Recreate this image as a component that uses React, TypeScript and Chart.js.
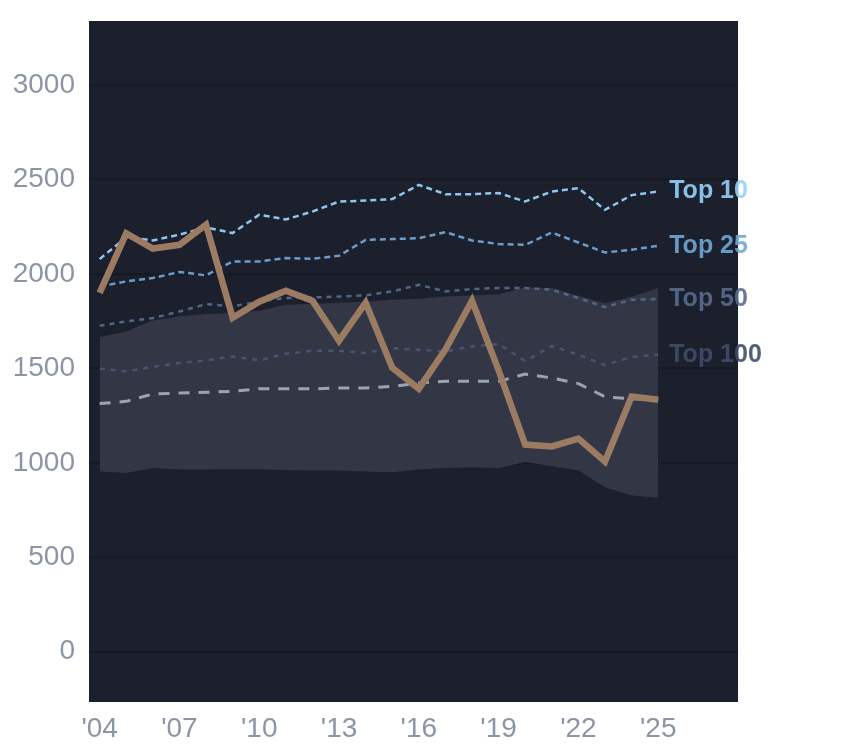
import React, { useEffect, useRef } from 'react';
import { Chart, registerables } from 'chart.js';

Chart.register(...registerables);

const years = [2004, 2005, 2006, 2007, 2008, 2009, 2010, 2011, 2012, 2013, 2014, 2015, 2016, 2017, 2018, 2019, 2020, 2021, 2022, 2023, 2024, 2025];

const player = [1900, 2215, 2135, 2155, 2261, 1769, 1854, 1912, 1859, 1647, 1848, 1504, 1393, 1600, 1859, 1490, 1097, 1087, 1129, 1007, 1351, 1335];
const top10 = [2079, 2195, 2178, 2209, 2247, 2217, 2314, 2289, 2331, 2384, 2389, 2397, 2472, 2423, 2423, 2429, 2384, 2437, 2455, 2340, 2418, 2437];
const top25 = [1934, 1961, 1979, 2011, 1993, 2067, 2067, 2085, 2081, 2097, 2181, 2185, 2190, 2222, 2178, 2159, 2155, 2220, 2167, 2114, 2129, 2150];
const top50 = [1726, 1749, 1767, 1802, 1841, 1829, 1855, 1873, 1876, 1881, 1887, 1908, 1943, 1908, 1921, 1926, 1926, 1917, 1873, 1825, 1864, 1868];
const top100 = [1499, 1485, 1508, 1529, 1543, 1564, 1543, 1578, 1594, 1594, 1582, 1608, 1599, 1590, 1617, 1629, 1540, 1619, 1573, 1518, 1561, 1573];
const median = [1314, 1326, 1365, 1370, 1374, 1379, 1393, 1393, 1392, 1397, 1397, 1405, 1423, 1432, 1432, 1432, 1470, 1450, 1420, 1350, 1340, 1335];
const bandLow = [955, 947, 973, 965, 965, 967, 967, 963, 960, 960, 955, 950, 965, 973, 977, 973, 1005, 982, 960, 871, 827, 815];
const bandHigh = [1667, 1696, 1754, 1776, 1788, 1795, 1806, 1838, 1843, 1848, 1853, 1864, 1869, 1881, 1887, 1893, 1930, 1926, 1885, 1845, 1880, 1926];

const yTicks = [0, 500, 1000, 1500, 2000, 2500, 3000];
const xTicks = [2004, 2007, 2010, 2013, 2016, 2019, 2022, 2025];

const FONT = "'Liberation Sans', Arial, Helvetica, sans-serif";

const pts = (vals: number[]) => vals.map((v, i) => ({ x: years[i], y: v }));

// dark plot background
const plotBg = {
  id: 'plotBg',
  beforeDraw(chart: any) {
    const { ctx, chartArea: a } = chart;
    ctx.save();
    ctx.fillStyle = '#1c202d';
    ctx.fillRect(a.left, a.top, a.right - a.left, a.bottom - a.top);
    ctx.restore();
  },
};

// "Top N" labels at the end of each line
const endLabels = {
  id: 'endLabels',
  afterDatasetsDraw(chart: any) {
    const { ctx } = chart;
    chart.data.datasets.forEach((ds: any, i: number) => {
      if (!ds.tag) return;
      const meta = chart.getDatasetMeta(i);
      const last = meta.data[meta.data.length - 1];
      ctx.save();
      ctx.font = `bold 25px ${FONT}`;
      ctx.fillStyle = ds.tagColor;
      ctx.textAlign = 'left';
      ctx.textBaseline = 'middle';
      ctx.fillText(ds.tag, last.x + 11, last.y);
      ctx.restore();
    });
  },
};

const line = (data: number[], color: string, width: number, dash: number[], extra: any = {}) => ({
  data: pts(data),
  borderColor: color,
  borderWidth: width,
  borderDash: dash,
  pointRadius: 0,
  fill: false,
  tension: 0,
  ...extra,
});

const App: React.FC = () => {
  const chartRef = useRef<HTMLCanvasElement | null>(null);
  const chartInstance = useRef<Chart | null>(null);

  useEffect(() => {
    if (chartRef.current) {
      chartInstance.current = new Chart(chartRef.current, {
        type: 'line',
        data: {
          datasets: [
            line(player, '#9c7b63', 6.5, [], { order: 0 }),
            line(top10, '#8fc6ee', 2.5, [6, 4], { order: 1, tag: 'Top 10', tagColor: 'rgba(150,208,250,0.9)' }),
            line(top25, '#6a9bcb', 2.5, [6, 4], { order: 2, tag: 'Top 25', tagColor: 'rgba(112,166,212,0.9)' }),
            line(top50, '#4f6688', 2.5, [5, 5], { order: 3, tag: 'Top 50', tagColor: 'rgba(88,108,142,0.9)' }),
            line(top100, '#475371', 2.5, [5, 6], { order: 4, tag: 'Top 100', tagColor: 'rgba(64,77,104,0.9)' }),
            line(median, '#9ba4b1', 3, [11, 9], { order: 5 }),
            line(bandHigh, 'rgba(0,0,0,0)', 0, [], { order: 6, fill: '+1', backgroundColor: '#323645' }),
            line(bandLow, 'rgba(0,0,0,0)', 0, [], { order: 7 }),
          ] as any,
        },
        options: {
          animation: false,
          responsive: false,
          events: [],
          layout: { padding: { top: 21, right: 106, left: 0, bottom: 0 } },
          plugins: {
            legend: { display: false },
            tooltip: { enabled: false },
          },
          scales: {
            x: {
              type: 'linear',
              min: 2003.6,
              max: 2028,
              afterBuildTicks: (s: any) => {
                s.ticks = xTicks.map((v) => ({ value: v }));
              },
              afterFit: (s: any) => {
                s.height = 46;
                s.paddingLeft = 0;
                s.paddingRight = 0;
              },
              grid: { display: false },
              border: { display: false },
              ticks: {
                padding: 2,
                color: '#8b95a5',
                font: { family: FONT, size: 28 },
                callback: (v: any) => "'" + String(v).slice(2),
                maxRotation: 0,
              },
            },
            y: {
              min: -266,
              max: 3340,
              afterBuildTicks: (s: any) => {
                s.ticks = yTicks.map((v) => ({ value: v }));
              },
              afterFit: (s: any) => {
                s.width = 89;
                s.paddingTop = 0;
                s.paddingBottom = 0;
              },
              grid: { color: '#161a25', lineWidth: 2.5, drawTicks: false },
              border: { display: false },
              ticks: {
                padding: 14,
                color: '#8b95a5',
                font: { family: FONT, size: 28 },
                callback: (v: any) => String(v),
              },
            },
          },
        } as any,
        plugins: [plotBg, endLabels],
      });
    }

    return () => {
      if (chartInstance.current) {
        chartInstance.current.destroy();
      }
    };
  }, []);

  return (
    <div style={{ position: 'fixed', left: 0, top: 0, width: 844, height: 748, background: '#fff' }}>
      <canvas ref={chartRef} width={844} height={748}></canvas>
    </div>
  );
};

export default App;
